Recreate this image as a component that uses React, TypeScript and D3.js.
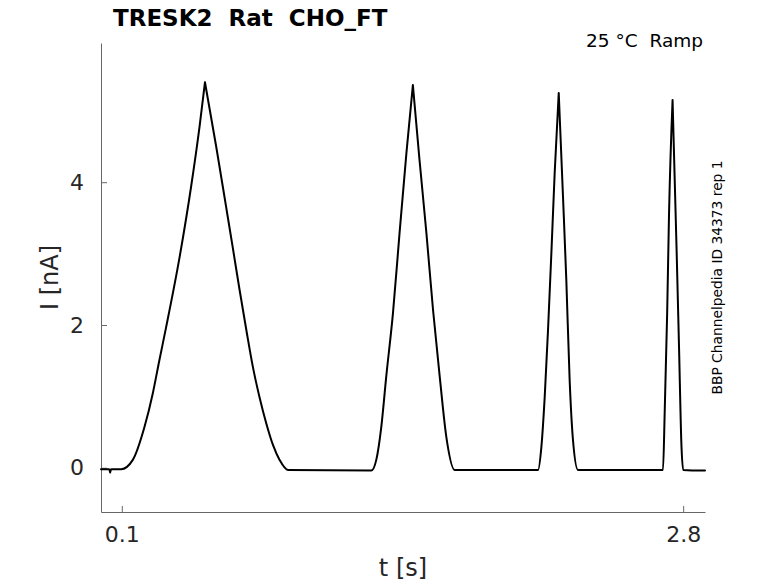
import { useEffect, useRef } from 'react';
import * as d3 from 'd3';

// Ramp protocol current trace
const timeSec = [
  0.0, 0.04, 0.044, 0.048, 0.097,
  0.153, 0.209, 0.249, 0.281, 0.314, 0.378, 0.434, 0.474, 0.5,
  0.554, 0.602, 0.634, 0.666, 0.699, 0.73, 0.763, 0.795, 0.827, 0.859, 0.899,
  1.3, 1.324, 1.348, 1.372, 1.404, 1.436, 1.469, 1.5,
  1.532, 1.565, 1.597, 1.629, 1.661, 1.701,
  2.102, 2.118, 2.134, 2.15, 2.166, 2.182, 2.2015,
  2.222, 2.238, 2.254, 2.27, 2.294,
  2.703, 2.711, 2.723, 2.732, 2.749,
  2.768, 2.78, 2.792, 2.8, 2.905,
];
const currentNA = [
  -0.02, -0.02, -0.07, -0.02, -0.02,
  0.11, 0.57, 1.04, 1.51, 1.98, 2.95, 3.95, 4.78, 5.4,
  4.5, 3.65, 3.08, 2.5, 1.93, 1.42, 0.98, 0.62, 0.32, 0.11, -0.03,
  -0.04, 0.11, 0.57, 1.28, 2.16, 3.29, 4.41, 5.36,
  4.31, 3.29, 2.21, 1.28, 0.43, -0.03,
  -0.03, 0.29, 0.99, 1.93, 3.0, 4.13, 5.25,
  3.8, 2.63, 1.23, 0.39, -0.03,
  -0.03, 0.76, 2.16, 3.56, 5.15,
  3.1, 1.7, 0.29, -0.03, -0.04,
];

const xTicks = [0.1, 2.8];
const yTicks = [0, 2, 4];
const xDomain = [0, 2.905];
const yDomain = [-0.62, 5.95];

const titleText = 'TRESK2  Rat  CHO_FT';
const conditionText = '25 °C  Ramp';
const sourceText = 'BBP Channelpedia ID 34373 rep 1';

export default function App() {
  const svgRef = useRef<SVGSVGElement>(null);
  const width = 778;
  const height = 583;
  const margin = { top: 43, right: 73, bottom: 71, left: 101 };
  const innerWidth = width - margin.left - margin.right;
  const innerHeight = height - margin.top - margin.bottom;

  useEffect(() => {
    if (!svgRef.current) return;
    const svg = d3.select(svgRef.current);
    svg.selectAll('*').remove();

    const font = '"DejaVu Sans", sans-serif';
    const xScale = d3.scaleLinear().domain(xDomain).range([0, innerWidth]);
    const yScale = d3.scaleLinear().domain(yDomain).range([innerHeight, 0]);

    const g = svg.append('g')
      .attr('transform', `translate(${margin.left},${margin.top})`);

    // X axis
    const xAxis = g.append('g')
      .attr('transform', `translate(0,${innerHeight})`)
      .call(
        d3.axisBottom(xScale)
          .tickValues(xTicks)
          .tickSizeInner(-6)
          .tickSizeOuter(0)
          .tickPadding(14)
          .tickFormat(d3.format('.1f'))
      );

    // Y axis
    const yAxis = g.append('g')
      .call(
        d3.axisLeft(yScale)
          .tickValues(yTicks)
          .tickSizeInner(-6)
          .tickSizeOuter(0)
          .tickPadding(17)
          .tickFormat(d3.format('d'))
      );

    [xAxis, yAxis].forEach(ax => {
      ax.select('.domain').attr('stroke', '#666').attr('stroke-width', 1);
      ax.selectAll('.tick line').attr('stroke', '#666').attr('stroke-width', 1);
      ax.selectAll('.tick text')
        .attr('fill', '#262626')
        .style('font-family', font)
        .style('font-size', '22px');
    });

    // Current trace: split at the peaks so the tips stay sharp
    const points = timeSec.map((t, i) => [t, currentNA[i]] as [number, number]);
    const pieces: [number, number][][] = [];
    let start = 0;
    for (let i = 1; i < points.length - 1; i++) {
      if (points[i][1] > points[i - 1][1] && points[i][1] > points[i + 1][1] && points[i][1] > 1) {
        pieces.push(points.slice(start, i + 1));
        start = i;
      }
    }
    pieces.push(points.slice(start));

    const line = d3.line<[number, number]>()
      .x(d => xScale(d[0]))
      .y(d => yScale(d[1]))
      .curve(d3.curveMonotoneX);

    g.append('path')
      .attr('fill', 'none')
      .attr('stroke', '#000')
      .attr('stroke-width', 2)
      .attr('stroke-linejoin', 'round')
      .attr('stroke-linecap', 'round')
      .attr('d', pieces.map(p => line(p)).join(''));

    // Axis labels
    svg.append('text')
      .attr('x', margin.left + innerWidth / 2)
      .attr('y', 576)
      .attr('text-anchor', 'middle')
      .attr('fill', '#262626')
      .style('font-family', font)
      .style('font-size', '24px')
      .text('t [s]');

    svg.append('text')
      .attr('transform', `translate(58,${margin.top + innerHeight / 2}) rotate(-90)`)
      .attr('text-anchor', 'middle')
      .attr('fill', '#262626')
      .style('font-family', font)
      .style('font-size', '24px')
      .text('I [nA]');

    // Title and annotations
    svg.append('text')
      .attr('x', 113)
      .attr('y', 26)
      .attr('fill', '#000')
      .style('font-family', font)
      .style('font-size', '23px')
      .style('font-weight', 'bold')
      .style('white-space', 'pre')
      .text(titleText);

    svg.append('text')
      .attr('x', 703)
      .attr('y', 47)
      .attr('text-anchor', 'end')
      .attr('fill', '#000')
      .style('font-family', font)
      .style('font-size', '18.5px')
      .style('white-space', 'pre')
      .text(conditionText);

    svg.append('text')
      .attr('transform', `translate(722,${margin.top + innerHeight / 2}) rotate(-90)`)
      .attr('text-anchor', 'middle')
      .attr('fill', '#000')
      .style('font-family', font)
      .style('font-size', '13.8px')
      .text(sourceText);
  }, [innerWidth, innerHeight]);

  return (
    <svg
      ref={svgRef}
      width={width}
      height={height}
      viewBox={`0 0 ${width} ${height}`}
      style={{ position: 'absolute', left: 0, top: 0, background: '#fff' }}
    />
  );
}
